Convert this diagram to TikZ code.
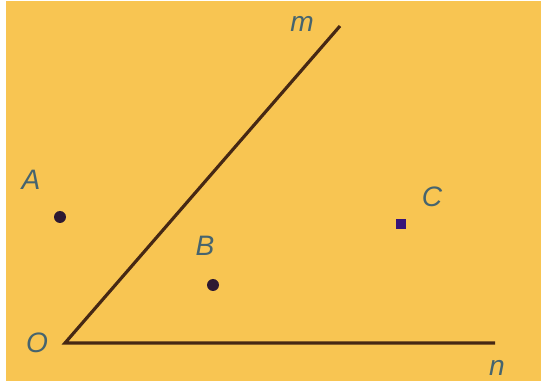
\documentclass[tikz,border=0pt]{standalone}
\usepackage{fontspec}
\setsansfont{Liberation Sans}
\usepackage{tikz}
\usetikzlibrary{positioning}
\definecolor{mybg}{RGB}{248,197,82}
\definecolor{myline}{RGB}{70,40,20}
\definecolor{mylabel}{RGB}{70,100,110}
\definecolor{mydot}{RGB}{45,25,50}
\definecolor{mydotc}{RGB}{55,20,120}
\tikzset{
  ptlabel/.style={font=\fontsize{16}{16}\selectfont\sffamily\itshape, color=mylabel, inner sep=0pt},
  ptdot/.style={circle, fill=mydot, minimum size=0.24cm, inner sep=0pt},
  ray/.style={line width=1.8pt, color=myline}
}
\begin{document}
\begin{tikzpicture}[x=0.02cm, y=-0.02cm]
  % background
  \fill[white] (0,0) rectangle (541,381);
  \fill[mybg] (6,1) rectangle (541,381);
  \useasboundingbox (0,0) rectangle (541,381);

  % angle mOn
  \coordinate (O) at (65,343);
  \coordinate (m) at (340,26);
  \coordinate (n) at (495,343);
  \draw[ray] (m) -- (O) -- (n);

  % labels of the angle
  \node[ptlabel] (lblO) at (37,343) {O};
  \node[ptlabel] (lblm) at (302,24) {m};
  \node[ptlabel] (lbln) at (497,368) {n};

  % points
  \node[ptdot] (A) at (60,217) {};
  \node[ptdot] (B) at (213,285) {};
  \node[ptdot, fill=mydotc, rectangle, minimum size=0.2cm] (C) at (401,224) {};
  \node[ptlabel] (lblA) at (31,180) {A};
  \node[ptlabel] (lblB) at (205,246) {B};
  \node[ptlabel] (lblC) at (432,197) {C};
\end{tikzpicture}
\end{document}
